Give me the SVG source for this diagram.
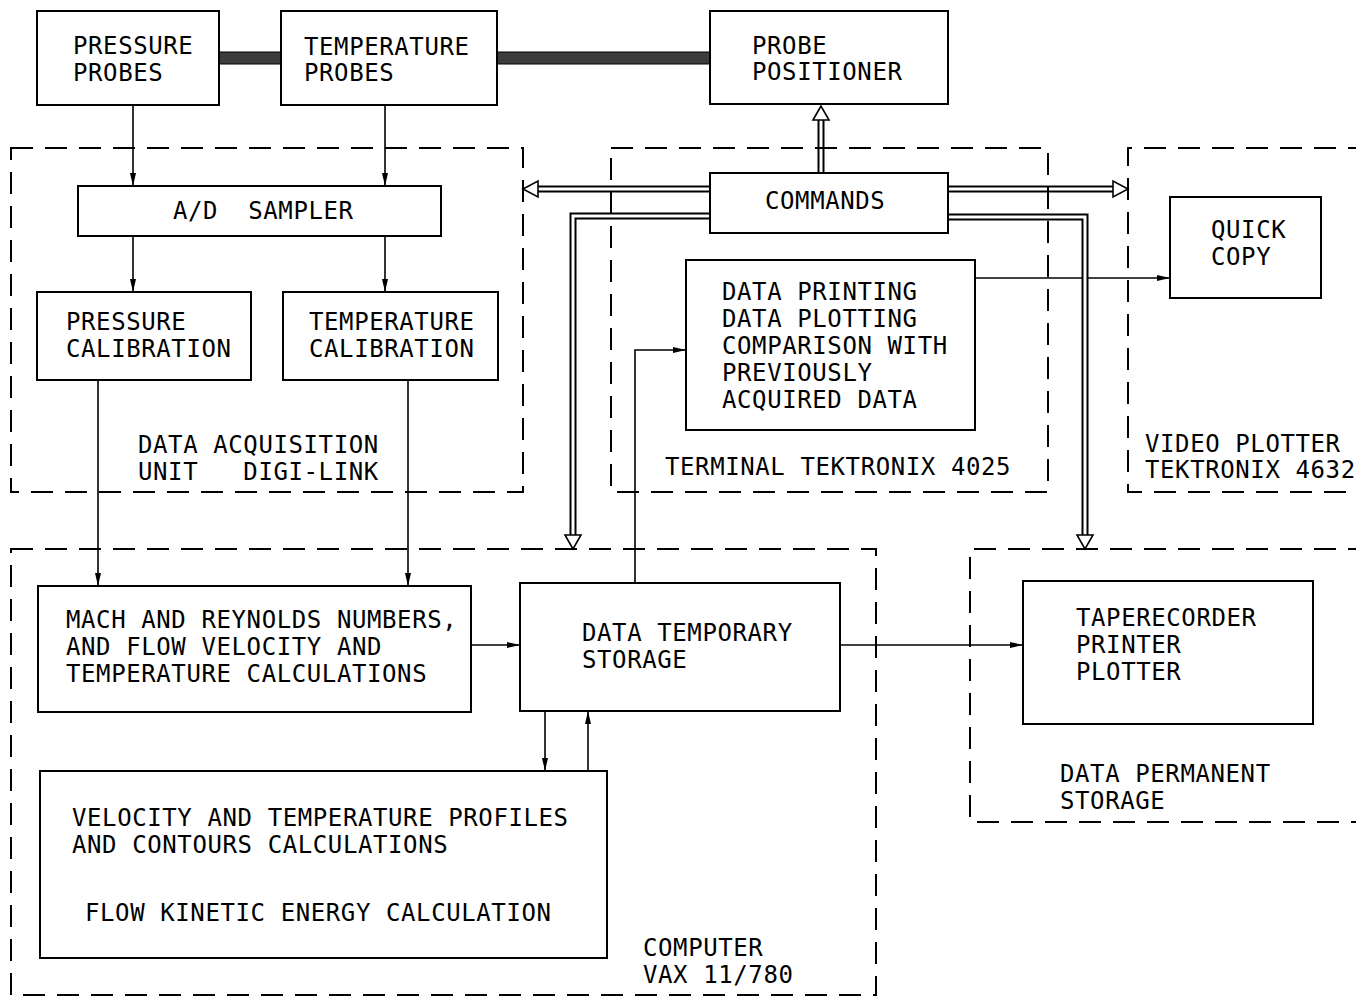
<svg xmlns="http://www.w3.org/2000/svg" width="1356" height="999" viewBox="0 0 1356 999">
<style>
text{font-family:"DejaVu Sans Mono","Liberation Mono",monospace;font-size:24px;letter-spacing:0.6px;fill:#000}
.box{fill:#fff;stroke:#000;stroke-width:2}
.dash{fill:none;stroke:#000;stroke-width:2;stroke-dasharray:22 12}
.ln{fill:none;stroke:#000;stroke-width:1.6}
.dblo{fill:none;stroke:#000;stroke-width:7;stroke-linejoin:miter}
.dbli{fill:none;stroke:#fff;stroke-width:3;stroke-linejoin:miter}
.hol{fill:#fff;stroke:#000;stroke-width:1.6;stroke-linejoin:miter}
.bar{fill:#3c3c3c;stroke:#000;stroke-width:1}
</style>
<defs>
<marker id="ar" markerUnits="userSpaceOnUse" markerWidth="14" markerHeight="8" refX="13" refY="4" orient="auto">
<path d="M0,1 L13,4 L0,7 Z" fill="#000"/>
</marker>
</defs>
<rect width="1356" height="999" fill="#fff"/>

<g id="connectors">
<rect class="bar" x="219" y="52" width="62" height="12"/>
<rect class="bar" x="497" y="52" width="213" height="12"/>
<line class="ln" x1="133" y1="105" x2="133" y2="186" marker-end="url(#ar)"/>
<line class="ln" x1="385" y1="105" x2="385" y2="186" marker-end="url(#ar)"/>
<line class="ln" x1="133" y1="236" x2="133" y2="292" marker-end="url(#ar)"/>
<line class="ln" x1="385" y1="236" x2="385" y2="292" marker-end="url(#ar)"/>
<line class="ln" x1="98" y1="380" x2="98" y2="586" marker-end="url(#ar)"/>
<line class="ln" x1="408" y1="380" x2="408" y2="586" marker-end="url(#ar)"/>
<line class="ln" x1="471" y1="645" x2="520" y2="645" marker-end="url(#ar)"/>
<line class="ln" x1="840" y1="645" x2="1023" y2="645" marker-end="url(#ar)"/>
<polyline class="ln" points="635,583 635,350 686,350" marker-end="url(#ar)"/>
<line class="ln" x1="545" y1="711" x2="545" y2="771" marker-end="url(#ar)"/>
<line class="ln" x1="588" y1="771" x2="588" y2="711" marker-end="url(#ar)"/>
<line class="ln" x1="975" y1="278" x2="1170" y2="278" marker-end="url(#ar)"/>
<path class="dblo" d="M821,173 V119"/>
<path class="dbli" d="M821,172 V119"/>
<polygon class="hol" points="821,106 813,120 829,120"/>
<path class="dblo" d="M710,189 H538"/>
<path class="dbli" d="M709,189 H538"/>
<polygon class="hol" points="523,189 538,181 538,197"/>
<path class="dblo" d="M710,216 H573 V535"/>
<path class="dbli" d="M709,216 H573 V535"/>
<polygon class="hol" points="573,549 565,535 581,535"/>
<path class="dblo" d="M948,189 H1113"/>
<path class="dbli" d="M949,189 H1113"/>
<polygon class="hol" points="1128,189 1113,181 1113,197"/>
<path class="dblo" d="M948,217 H1085 V535"/>
<path class="dbli" d="M949,217 H1085 V535"/>
<polygon class="hol" points="1085,549 1077,535 1093,535"/>
</g>

<g id="daq-unit">
<rect class="dash" x="11" y="148" width="512" height="344"/>
<text x="138" y="453">DATA ACQUISITION</text>
<text x="138" y="480" xml:space="preserve">UNIT   DIGI-LINK</text>
</g>
<g id="terminal">
<rect class="dash" x="611" y="148" width="437" height="344"/>
<text x="665" y="475">TERMINAL TEKTRONIX 4025</text>
</g>
<g id="video-plotter">
<path class="dash" d="M1370,148 H1128 V492 H1370"/>
<text x="1145" y="452">VIDEO PLOTTER</text>
<text x="1145" y="478">TEKTRONIX 4632</text>
</g>
<g id="computer">
<rect class="dash" x="11" y="549" width="865" height="446"/>
<text x="643" y="956">COMPUTER</text>
<text x="643" y="983">VAX 11/780</text>
</g>
<g id="permanent-storage">
<path class="dash" d="M1370,549 H970 V822 H1370"/>
<text x="1060" y="782">DATA PERMANENT</text>
<text x="1060" y="809">STORAGE</text>
</g>

<g id="pressure-probes">
<rect class="box" x="37" y="11" width="182" height="94"/>
<text x="73" y="54">PRESSURE</text>
<text x="73" y="81">PROBES</text>
</g>
<g id="temperature-probes">
<rect class="box" x="281" y="11" width="216" height="94"/>
<text x="304" y="55">TEMPERATURE</text>
<text x="304" y="81">PROBES</text>
</g>
<g id="probe-positioner">
<rect class="box" x="710" y="11" width="238" height="93"/>
<text x="752" y="54">PROBE</text>
<text x="752" y="80">POSITIONER</text>
</g>
<g id="ad-sampler">
<rect class="box" x="78" y="186" width="363" height="50"/>
<text x="173" y="219" xml:space="preserve">A/D  SAMPLER</text>
</g>
<g id="pressure-calibration">
<rect class="box" x="37" y="292" width="214" height="88"/>
<text x="66" y="330">PRESSURE</text>
<text x="66" y="357">CALIBRATION</text>
</g>
<g id="temperature-calibration">
<rect class="box" x="283" y="292" width="215" height="88"/>
<text x="309" y="330">TEMPERATURE</text>
<text x="309" y="357">CALIBRATION</text>
</g>
<g id="commands">
<rect class="box" x="710" y="173" width="238" height="60"/>
<text x="765" y="209">COMMANDS</text>
</g>
<g id="data-printing">
<rect class="box" x="686" y="260" width="289" height="170"/>
<text x="722" y="300">DATA PRINTING</text>
<text x="722" y="327">DATA PLOTTING</text>
<text x="722" y="354">COMPARISON WITH</text>
<text x="722" y="381">PREVIOUSLY</text>
<text x="722" y="408">ACQUIRED DATA</text>
</g>
<g id="quick-copy">
<rect class="box" x="1170" y="197" width="151" height="101"/>
<text x="1211" y="238">QUICK</text>
<text x="1211" y="265">COPY</text>
</g>
<g id="mach-calc">
<rect class="box" x="38" y="586" width="433" height="126"/>
<text x="66" y="628">MACH AND REYNOLDS NUMBERS,</text>
<text x="66" y="655">AND FLOW VELOCITY AND</text>
<text x="66" y="682">TEMPERATURE CALCULATIONS</text>
</g>
<g id="data-temporary-storage">
<rect class="box" x="520" y="583" width="320" height="128"/>
<text x="582" y="641">DATA TEMPORARY</text>
<text x="582" y="668">STORAGE</text>
</g>
<g id="taperecorder">
<rect class="box" x="1023" y="581" width="290" height="143"/>
<text x="1076" y="626">TAPERECORDER</text>
<text x="1076" y="653">PRINTER</text>
<text x="1076" y="680">PLOTTER</text>
</g>
<g id="profiles-calc">
<rect class="box" x="40" y="771" width="567" height="187"/>
<text x="72" y="826">VELOCITY AND TEMPERATURE PROFILES</text>
<text x="72" y="853">AND CONTOURS CALCULATIONS</text>
<text x="85" y="921">FLOW KINETIC ENERGY CALCULATION</text>
</g>
</svg>
